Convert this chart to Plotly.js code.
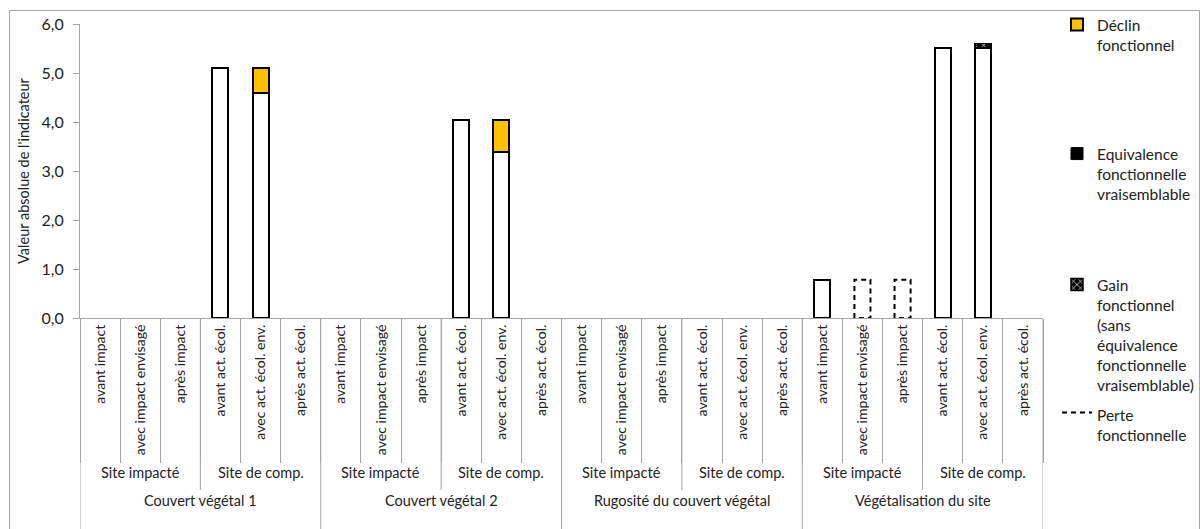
<!DOCTYPE html>
<html><head><meta charset="utf-8">
<script src="https://cdn.plot.ly/plotly-3.0.1.min.js"></script>
<style>html,body{margin:0;padding:0;background:#fff}#c{width:1200px;height:529px}</style>
</head><body><div id="c"></div>
<script>
var states = ["avant impact","avec impact envisagé","après impact","avant act. écol.","avec act. écol. env.","après act. écol."];
var sites = ["Site impacté","Site de comp."];
var indicators = ["Couvert végétal 1","Couvert végétal 2","Rugosité du couvert végétal","Végétalisation du site"];
var statesPerSite = 3;

// values per category (24 = 4 indicators x 6 states)
var baseValues   = [null,null,null,5.1,4.6,null,  null,null,null,4.05,3.38,null,  null,null,null,null,null,null,  0.78,null,null,5.52,5.52,null];
var declin       = [null,null,null,null,0.5,null, null,null,null,null,0.67,null,  null,null,null,null,null,null,  null,null,null,null,null,null];
var equivalence  = [null,null,null,null,null,null, null,null,null,null,null,null, null,null,null,null,null,null,  null,null,null,null,null,null];
var gain         = [null,null,null,null,null,null, null,null,null,null,null,null, null,null,null,null,null,null,  null,null,null,null,0.08,null];
var perte        = [null,null,null,null,null,null, null,null,null,null,null,null, null,null,null,null,null,null,  null,0.78,0.78,null,null,null];

var tickLabels = [];
indicators.forEach(function(){ states.forEach(function(s){ tickLabels.push(s); }); });
var xIdx = tickLabels.map(function(_, i){ return i; });
var BW = 0.4;

var traces = [];
traces.push({type:'bar', x:xIdx, y:baseValues, width:BW, showlegend:false, hoverinfo:'skip',
  marker:{color:'#ffffff', line:{color:'#000', width:2}}});
traces.push({type:'bar', x:xIdx, y:equivalence, width:BW, name:'Equivalence<br>fonctionnelle<br>vraisemblable', legend:'legend2',
  marker:{color:'#000000', line:{color:'#000', width:1}}});
traces.push({type:'bar', x:xIdx, y:gain, width:BW, name:'Gain<br>fonctionnel<br>(sans<br>équivalence<br>fonctionnelle<br>vraisemblable)', legend:'legend3',
  marker:{color:'#000000', line:{color:'#000', width:1.5}, pattern:{shape:'x', fgcolor:'#ffffff', bgcolor:'#000000', size:6, solidity:0.25}}});
traces.push({type:'bar', x:xIdx, y:declin, width:BW, name:'Déclin<br>fonctionnel', legend:'legend',
  marker:{color:'#FFC000', line:{color:'#000', width:2}}});

// Perte fonctionnelle: dashed outlined bars built from the perte array
var px = [], py = [];
perte.forEach(function(v, i){
  if (v == null) return;
  px.push(i-BW/2, i-BW/2, i+BW/2, i+BW/2, i-BW/2, null);
  py.push(0, v, v, 0, 0, null);
});
traces.push({type:'scatter', mode:'lines', x:px, y:py, fill:'toself', fillcolor:'#ffffff', name:'Perte<br>fonctionnelle', legend:'legend4',
  line:{color:'#000', width:2, dash:'5px,4px'}, hoverinfo:'skip'});

// layout geometry helpers (pixels of the 1200x529 frame)
var L = 80, R = 1043, T = 24, B = 318;
function py2paper(p){ return (B - p)/(B - T); }
function px2paper(p){ return (p - L)/(R - L); }

var shapes = [], annotations = [];
var nPerInd = states.length;
var sepColor = '#a6a6a6';
shapes.push({type:'rect', xref:'paper', yref:'paper', x0:px2paper(9.5), x1:px2paper(1199.5), y0:py2paper(560), y1:py2paper(10.5),
  line:{color:sepColor, width:1}, layer:'below'});
indicators.forEach(function(ind, k){
  var start = k*nPerInd;
  shapes.push({type:'line', xref:'x', yref:'paper', x0:start-0.5, x1:start-0.5, y0:0, y1:py2paper(560), line:{color:sepColor, width:1}});
  shapes.push({type:'line', xref:'x', yref:'paper', x0:start+statesPerSite-0.5, x1:start+statesPerSite-0.5, y0:0, y1:py2paper(490), line:{color:sepColor, width:1}});
  annotations.push({xref:'x', yref:'paper', x:start+(nPerInd-1)/2, y:py2paper(511), text:ind, showarrow:false, font:{size:14.5, color:'#222'}});
  sites.forEach(function(s, j){
    annotations.push({xref:'x', yref:'paper', x:start+j*statesPerSite+(statesPerSite-1)/2, y:py2paper(483), text:s, showarrow:false, font:{size:14.5, color:'#222'}});
  });
});
shapes.push({type:'line', xref:'x', yref:'paper', x0:tickLabels.length-0.5, x1:tickLabels.length-0.5, y0:0, y1:py2paper(560), line:{color:sepColor, width:1}});

function leg(ypx){
  return {x:px2paper(1057), y:py2paper(ypx), xanchor:'left', yanchor:'top', bgcolor:'rgba(0,0,0,0)',
    valign:'top', font:{family:'Lato, sans-serif', size:15.5, color:'#222'}, itemclick:false};
}

var layout = {
  width:1200, height:529,
  margin:{l:L, r:1200-R, t:T, b:529-B, autoexpand:false},
  paper_bgcolor:'#fff', plot_bgcolor:'#fff',
  font:{family:'Lato, sans-serif', color:'#222'},
  separators:',.',
  barmode:'stack',
  showlegend:true,
  legend:leg(8), legend2:leg(137), legend3:leg(268), legend4:leg(398),
  xaxis:{range:[-0.5, tickLabels.length-0.5], tickmode:'array', tickvals:xIdx, ticktext:tickLabels, tickangle:-90,
    ticks:'', showgrid:false, zeroline:false, showline:true, linecolor:sepColor, linewidth:1,
    tickfont:{size:14.1, color:'#222'},
    minor:{tickmode:'linear', tick0:-0.5, dtick:1, ticks:'outside', ticklen:144, tickcolor:sepColor, tickwidth:1, showgrid:false}},
  yaxis:{range:[0,6], dtick:1, tickformat:'.1f', ticks:'outside', ticklen:6, tickcolor:sepColor, showgrid:false,
    zeroline:false, showline:true, linecolor:sepColor, linewidth:1, tickfont:{size:16, color:'#222'}, ticklabelstandoff:6,
    title:{text:"Valeur absolue de l'indicateur", font:{size:14.5, color:'#222'}, standoff:8}},
  shapes:shapes, annotations:annotations
};
Plotly.newPlot('c', traces, layout, {displayModeBar:false, staticPlot:true});
</script></body></html>
